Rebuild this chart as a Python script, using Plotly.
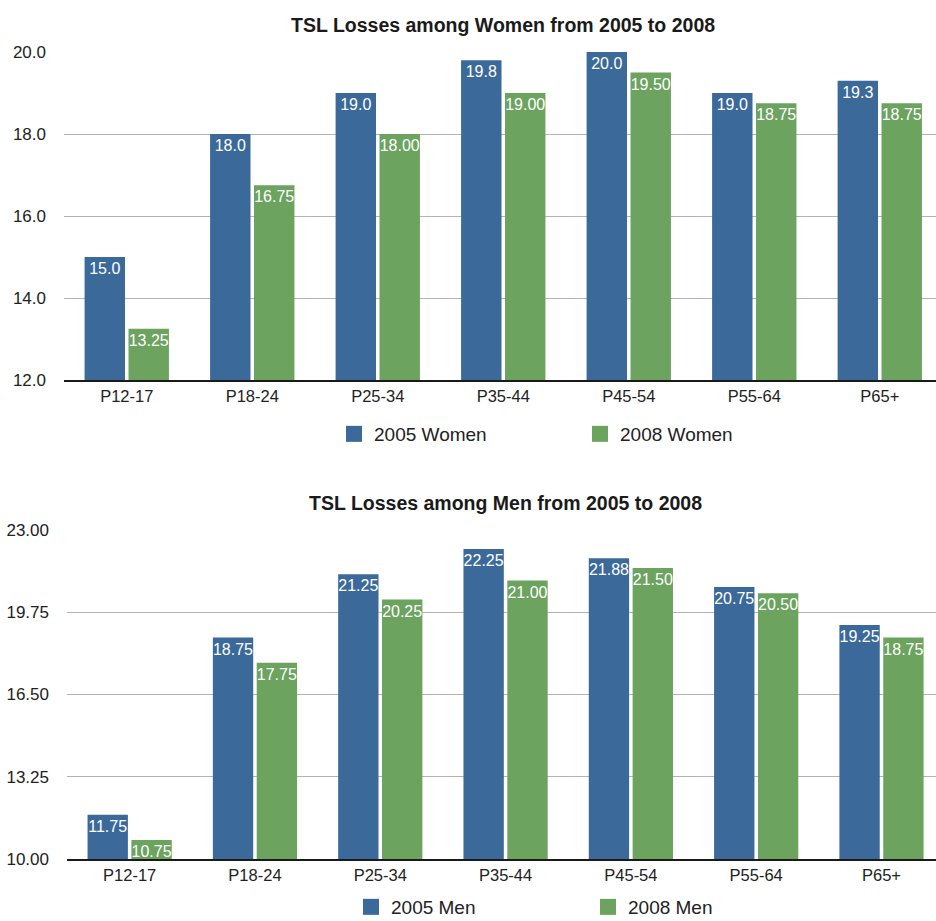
import plotly.graph_objects as go

# Age groups shared by both panels
age_groups = ["P12-17", "P18-24", "P25-34", "P35-44", "P45-54", "P55-64", "P65+"]

# Time-spent-listening losses, women
women_2005 = [15.0, 18.0, 19.0, 19.8, 20.0, 19.0, 19.3]
women_2008 = [13.25, 16.75, 18.00, 19.00, 19.50, 18.75, 18.75]

# Time-spent-listening losses, men
men_2005 = [11.75, 18.75, 21.25, 22.25, 21.88, 20.75, 19.25]
men_2008 = [10.75, 17.75, 20.25, 21.00, 21.50, 20.50, 18.75]

women_ticks = [12.0, 14.0, 16.0, 18.0, 20.0]
men_ticks = [10.00, 13.25, 16.50, 19.75, 23.00]

BLUE = "#3b6a9a"
GREEN = "#6ba35f"
FONT = "Liberation Sans"
W, H = 936, 921

fig = go.Figure()


def add_bars(values, name, color, fmt, xa, ya):
    fig.add_trace(go.Bar(
        x=age_groups, y=values, name=name, marker=dict(color=color, line=dict(width=0)),
        text=values, texttemplate="%{y:" + fmt + "}", textposition="inside",
        insidetextanchor="end", textangle=0, constraintext="none",
        insidetextfont=dict(color="white", size=16, family=FONT),
        xaxis=xa, yaxis=ya, showlegend=False,
    ))


def add_key(name, color, legend):
    # legend-only entry with a larger square swatch
    fig.add_trace(go.Scatter(
        x=[None], y=[None], mode="markers", name=name,
        marker=dict(symbol="square", size=17, color=color),
        legend=legend, showlegend=True,
    ))


add_bars(women_2005, "2005 Women", BLUE, ".1f", "x", "y")
add_bars(women_2008, "2008 Women", GREEN, ".2f", "x", "y")
add_bars(men_2005, "2005 Men", BLUE, ".2f", "x2", "y2")
add_bars(men_2008, "2008 Men", GREEN, ".2f", "x2", "y2")
add_key("2005 Women", BLUE, "legend")
add_key("2008 Women", GREEN, "legend")
add_key("2005 Men", BLUE, "legend2")
add_key("2008 Men", GREEN, "legend2")

axis_font = dict(family=FONT, size=16.5, color="#222222")

xcommon = dict(
    type="category", showgrid=False, showline=True, linecolor="#1a1a1a", linewidth=2,
    ticks="", tickfont=axis_font, layer="below traces", fixedrange=True,
)
ycommon = dict(
    showgrid=True, gridcolor="#b3b3b3", gridwidth=1, zeroline=False, showline=False,
    ticks="", tickfont=dict(family=FONT, size=17, color="#222222"),
    ticklabelstandoff=17, layer="below traces",
)

fig.update_layout(
    width=W, height=H,
    margin=dict(l=0, r=0, t=0, b=0, autoexpand=False),
    paper_bgcolor="white", plot_bgcolor="white",
    barmode="group", bargap=0.3, bargroupgap=0.08,
    font=dict(family=FONT, color="#222222"),
    xaxis=dict(xcommon, domain=[64 / W, 1.0], range=[-0.5, 6.448], anchor="y"),
    yaxis=dict(ycommon, domain=[1 - 380 / H, 1 - 52 / H], range=[12, 20],
               tickvals=women_ticks, tickformat=".1f", anchor="x"),
    xaxis2=dict(xcommon, domain=[67 / W, 1.0], range=[-0.5, 6.435], anchor="y2"),
    yaxis2=dict(ycommon, domain=[1 - 859 / H, 1 - 530 / H], range=[10, 23],
                tickvals=men_ticks, tickformat=".2f", anchor="x2"),
    legend=dict(orientation="h", x=334 / W, xanchor="left", y=1 - 434 / H, yanchor="middle",
                entrywidth=201, font=dict(family=FONT, size=19, color="#222222"),
                bgcolor="rgba(0,0,0,0)", itemclick=False, itemdoubleclick=False),
    legend2=dict(orientation="h", x=351 / W, xanchor="left", y=1 - 907 / H, yanchor="middle",
                 entrywidth=192, font=dict(family=FONT, size=19, color="#222222"),
                 bgcolor="rgba(0,0,0,0)", itemclick=False, itemdoubleclick=False),
    annotations=[
        dict(text="<b>TSL Losses among Women from 2005 to 2008</b>", xref="paper", yref="paper",
             x=503 / W, y=1 - 25 / H, xanchor="center", yanchor="middle", showarrow=False,
             font=dict(family=FONT, size=19.5, color="#1a1a1a")),
        dict(text="<b>TSL Losses among Men from 2005 to 2008</b>", xref="paper", yref="paper",
             x=505 / W, y=1 - 503 / H, xanchor="center", yanchor="middle", showarrow=False,
             font=dict(family=FONT, size=19.5, color="#1a1a1a")),
    ],
)

fig.write_html("out.html")
